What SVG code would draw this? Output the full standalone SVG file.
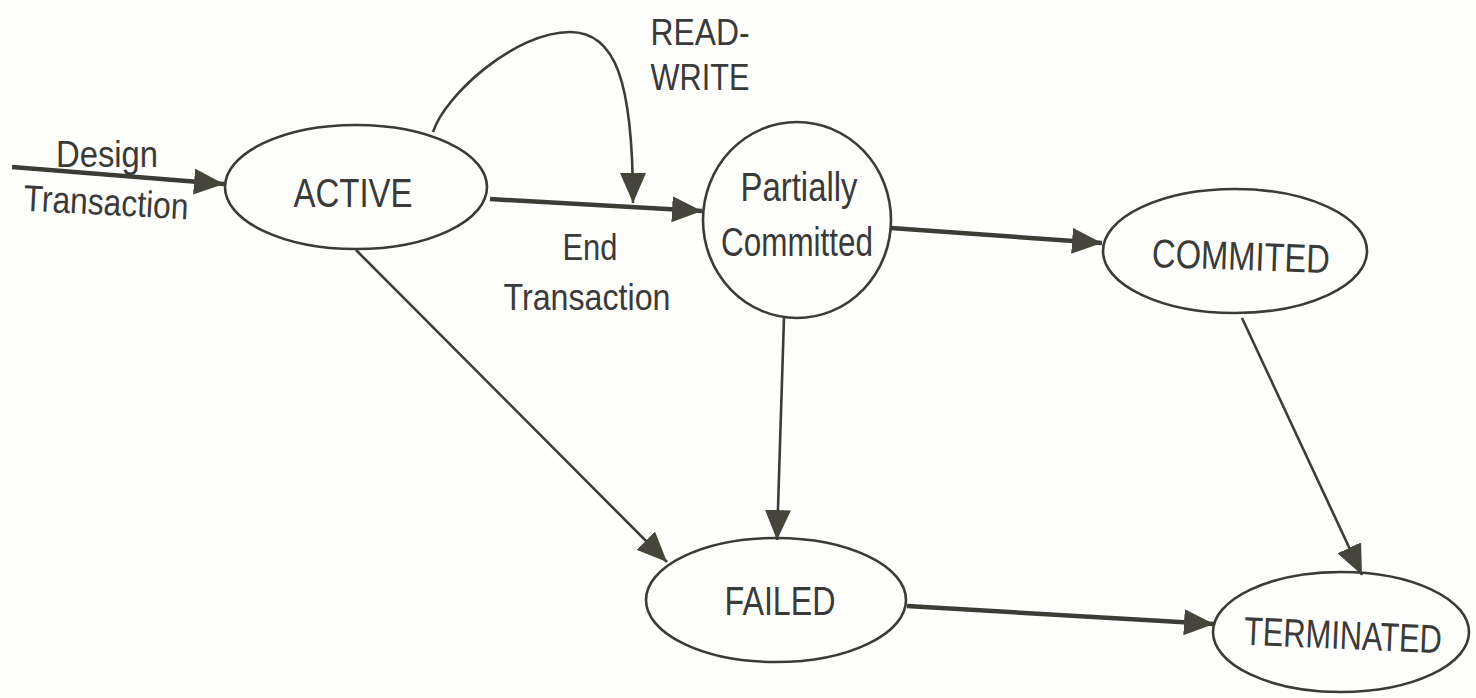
<svg xmlns="http://www.w3.org/2000/svg" width="1476" height="698" viewBox="0 0 1476 698">
<style>
.node{fill:none;stroke:#3a3a36;stroke-width:2.6}
.t{font-family:"Liberation Sans",Arial,sans-serif;fill:#3a3a38;font-size:40px;text-anchor:middle}
.lbl{font-family:"Liberation Sans",Arial,sans-serif;fill:#3a3a38;font-size:37px;text-anchor:middle}
.c{fill:none;stroke:#3c3c36;stroke-width:2.6}
.thick{stroke-width:4.5}
</style>
<defs>
<marker id="ah" viewBox="0 0 30 26" refX="30" refY="13" markerWidth="30" markerHeight="26" markerUnits="userSpaceOnUse" orient="auto">
<path d="M0,0 L30,13 L0,26 z" fill="#45453c"/>
</marker>
</defs>
<rect width="1476" height="698" fill="#fefefc"/>
<g id="connectors">
<line class="c thick" x1="12" y1="167" x2="224" y2="184" marker-end="url(#ah)"/>
<line class="c thick" x1="490" y1="199" x2="702" y2="211" marker-end="url(#ah)"/>
<path class="c" d="M433,132 C445,95 515,32 570,32 C615,32 633,80 633,203" marker-end="url(#ah)"/>
<line class="c thick" x1="891" y1="228" x2="1102" y2="243" marker-end="url(#ah)"/>
<line class="c" x1="356" y1="250" x2="667" y2="562" marker-end="url(#ah)"/>
<line class="c" x1="784" y1="317" x2="777" y2="540" marker-end="url(#ah)"/>
<line class="c" x1="1242" y1="318" x2="1362" y2="575" marker-end="url(#ah)"/>
<line class="c thick" x1="907" y1="606" x2="1214" y2="624" marker-end="url(#ah)"/>
</g>
<g id="label-design">
<text class="lbl" x="107" y="167" textLength="102" lengthAdjust="spacingAndGlyphs">Design</text>
<text class="lbl" x="106" y="215" textLength="165" lengthAdjust="spacingAndGlyphs" transform="rotate(3 106 205)">Transaction</text>
</g>
<g id="label-readwrite">
<text class="lbl" x="700" y="45" textLength="99" lengthAdjust="spacingAndGlyphs">READ-</text>
<text class="lbl" x="700" y="90" textLength="99" lengthAdjust="spacingAndGlyphs">WRITE</text>
</g>
<g id="label-end">
<text class="lbl" x="590" y="260" textLength="55" lengthAdjust="spacingAndGlyphs">End</text>
<text class="lbl" x="587" y="310" textLength="167" lengthAdjust="spacingAndGlyphs">Transaction</text>
</g>
<g id="active">
<ellipse class="node" cx="356" cy="187" rx="131" ry="62"/>
<text class="t" x="353" y="207" textLength="119" lengthAdjust="spacingAndGlyphs">ACTIVE</text>
</g>
<g id="partially-committed">
<ellipse class="node" cx="797" cy="220" rx="94" ry="98"/>
<text class="t" x="799" y="201" textLength="117" lengthAdjust="spacingAndGlyphs">Partially</text>
<text class="t" x="797" y="256" textLength="152" lengthAdjust="spacingAndGlyphs">Committed</text>
</g>
<g id="commited">
<ellipse class="node" cx="1235" cy="251" rx="132" ry="62"/>
<text class="t" x="1241" y="270" textLength="178" lengthAdjust="spacingAndGlyphs" transform="rotate(2 1241 255)">COMMITED</text>
</g>
<g id="failed">
<ellipse class="node" cx="776" cy="600" rx="130" ry="62"/>
<text class="t" x="780" y="615" textLength="111" lengthAdjust="spacingAndGlyphs">FAILED</text>
</g>
<g id="terminated">
<ellipse class="node" cx="1341" cy="632" rx="128" ry="60"/>
<text class="t" x="1343" y="649" font-size="36" textLength="198" lengthAdjust="spacingAndGlyphs" transform="rotate(2.5 1343 636)">TERMINATED</text>
</g>
</svg>
